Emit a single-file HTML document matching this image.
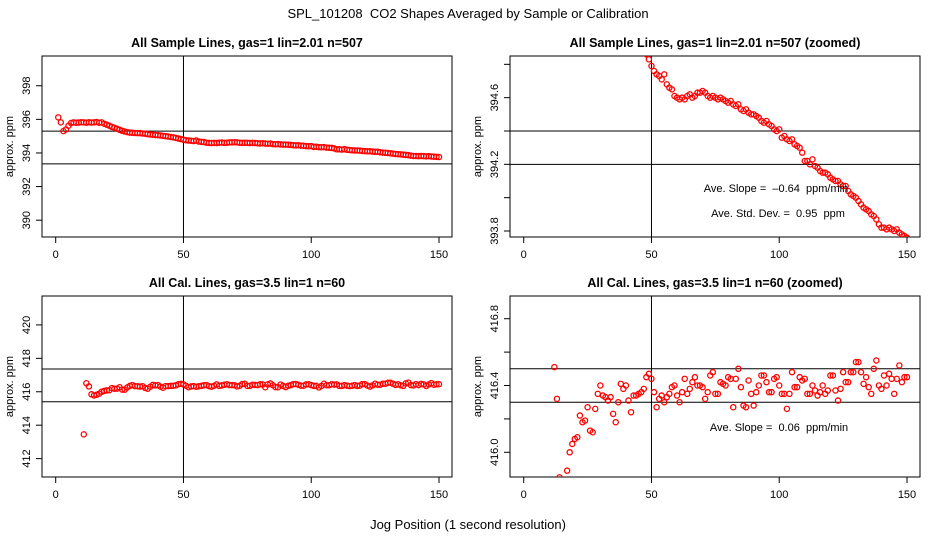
<!DOCTYPE html>
<html><head><meta charset="utf-8">
<style>
html,body{margin:0;padding:0;background:#fff;width:936px;height:540px;overflow:hidden;}
svg{display:block;font-family:"Liberation Sans",Arial,sans-serif;}
text{white-space:pre;}
</style></head>
<body>
<svg id="c" width="936" height="540" viewBox="0 0 936 540" xmlns="http://www.w3.org/2000/svg">
<text x="468" y="18" text-anchor="middle" font-size="13">SPL_101208  CO2 Shapes Averaged by Sample or Calibration</text>
<text x="468" y="529" text-anchor="middle" font-size="13">Jog Position (1 second resolution)</text>
</svg>
<script>
const xTicks = [0, 50, 100, 150];
const sampleValues = [
396.12,395.82,395.30,395.40,395.62,395.78,395.82,395.80,395.81,395.83,
395.82,395.80,395.83,395.81,395.82,395.84,395.80,395.82,395.74,395.68,
395.62,395.55,395.50,395.44,395.38,395.32,395.28,395.24,395.21,395.20,
395.19,395.18,395.18,395.16,395.15,395.12,395.10,395.09,395.07,395.06,
395.04,395.02,395.00,394.98,394.95,394.93,394.90,394.86,394.83,394.79,
394.76,394.74,394.73,394.71,394.74,394.68,394.66,394.65,394.61,394.60,
394.59,394.60,394.59,394.61,394.62,394.60,394.61,394.63,394.63,394.64,
394.63,394.61,394.60,394.61,394.60,394.59,394.60,394.59,394.58,394.57,
394.58,394.56,394.55,394.56,394.53,394.52,394.53,394.51,394.50,394.50,
394.49,394.48,394.46,394.45,394.46,394.44,394.43,394.41,394.40,394.41,
394.36,394.37,394.35,394.34,394.35,394.32,394.31,394.30,394.27,394.22,
394.22,394.20,394.23,394.19,394.18,394.16,394.15,394.15,394.14,394.12,
394.11,394.10,394.10,394.08,394.07,394.07,394.04,394.02,394.01,394.00,
393.98,393.96,393.94,393.93,393.92,393.90,393.89,393.87,393.84,393.82,
393.82,393.81,393.82,393.81,393.80,393.81,393.79,393.78,393.77,393.76];
const calStart = 11;
const calValues = [
413.45,416.51,416.32,415.85,415.78,415.82,415.89,416.00,416.05,416.08,
416.09,416.22,416.18,416.19,416.27,416.13,416.12,416.26,416.35,416.40,
416.34,416.33,416.31,416.33,416.23,416.18,416.30,416.41,416.38,416.40,
416.31,416.24,416.34,416.34,416.35,416.36,416.38,416.45,416.47,416.44,
416.36,416.27,416.32,416.34,416.30,416.33,416.35,416.39,416.40,416.34,
416.30,416.36,416.44,416.35,416.38,416.42,416.45,416.40,416.40,416.39,
416.32,416.36,416.46,416.48,416.35,416.35,416.42,416.41,416.40,416.45,
416.44,416.27,416.44,416.50,416.39,416.28,416.27,416.43,416.35,416.28,
416.36,416.40,416.46,416.46,416.42,416.36,416.36,416.44,416.45,416.40,
416.35,416.35,416.26,416.35,416.48,416.39,416.39,416.45,416.43,416.44,
416.35,416.35,416.40,416.37,416.34,416.36,416.40,416.35,416.37,416.46,
416.46,416.37,416.31,416.38,416.48,416.42,416.42,416.48,416.48,416.54,
416.54,416.48,416.41,416.45,416.39,416.35,416.50,416.55,416.40,416.38,
416.46,416.40,416.47,416.44,416.35,416.44,416.52,416.42,416.45,416.45];
const sampleTicks1 = [390, 392, 394, 396, 398];
const sampleTicks2 = [393.8, 394.0, 394.2, 394.4, 394.6, 394.8];
const sampleLabels2 = ["393.8", "", "394.2", "", "394.6", ""];
const calTicks1 = [412, 414, 416, 418, 420];
const calTicks2 = [416.0, 416.2, 416.4, 416.6, 416.8];
const calLabels2 = ["416.0", "", "416.4", "", "416.8"];

const NS = "http://www.w3.org/2000/svg";
const svg = document.getElementById('c');
function mk(tag, attrs, parent) {
  const e = document.createElementNS(NS, tag);
  for (const k in attrs) e.setAttribute(k, attrs[k]);
  (parent || svg).appendChild(e);
  return e;
}
const panels = [
  {name:'sample-full', x0:42, x1:452, y0:56, y1:237, ymin:389.0, ymax:399.77, title:'All Sample Lines, gas=1 lin=2.01 n=507', ticks:sampleTicks1, labels:sampleTicks1.map(String), hl:[395.3,393.35], xs:sampleValues.map((v,i)=>i+1), ys:sampleValues, notes:[]},
  {name:'sample-zoomed', x0:510, x1:920, y0:56, y1:237, ymin:393.764, ymax:394.85, title:'All Sample Lines, gas=1 lin=2.01 n=507 (zoomed)', ticks:sampleTicks2, labels:sampleLabels2, hl:[394.4,394.2], xs:sampleValues.map((v,i)=>i+1), ys:sampleValues, notes:[['Ave. Slope =  \u20130.64  ppm/min',776,192],['Ave. Std. Dev. =  0.95  ppm',778,217]]},
  {name:'cal-full', x0:42, x1:452, y0:296, y1:477, ymin:410.9, ymax:421.73, title:'All Cal. Lines, gas=3.5 lin=1 n=60', ticks:calTicks1, labels:calTicks1.map(String), hl:[417.36,415.4], xs:calValues.map((v,i)=>i+calStart), ys:calValues, notes:[]},
  {name:'cal-zoomed', x0:510, x1:920, y0:296, y1:477, ymin:415.852, ymax:416.936, title:'All Cal. Lines, gas=3.5 lin=1 n=60 (zoomed)', ticks:calTicks2, labels:calLabels2, hl:[416.5,416.3], xs:calValues.map((v,i)=>i+calStart), ys:calValues, notes:[['Ave. Slope =  0.06  ppm/min',779,431]]}
];
panels.forEach(p => {
  const g = mk('g', {});
  
  
  const clipId = 'clip-' + p.name;
  const cp = mk('clipPath', {id: clipId}, g);
  mk('rect', {x:p.x0, y:p.y0, width:p.x1-p.x0, height:p.y1-p.y0}, cp);
  const xs = v => p.x0 + 13.7 + v * (383.3/150);
  const ys = v => p.y1 - (v - p.ymin) / (p.ymax - p.ymin) * (p.y1 - p.y0);
  const t = mk('text', {x:(p.x0+p.x1)/2, y:p.y0-9, 'text-anchor':'middle', 'font-size':'12.5', 'font-weight':'bold'}, g);
  t.textContent = p.title;
  
  
  const yl = mk('text', {transform:`translate(13,${(p.y0+p.y1)/2}) rotate(-90)`, 'text-anchor':'middle', 'font-size':'11'}, g);
  yl.textContent = 'approx. ppm';
  
  
  if (p.x0 > 300) yl.setAttribute('transform', `translate(481,${(p.y0+p.y1)/2}) rotate(-90)`);
  const box = mk('rect', {x:p.x0, y:p.y0, width:p.x1-p.x0, height:p.y1-p.y0, fill:'none', stroke:'#000', 'stroke-width':1}, g);
  
  
  xTicks.forEach(v => {
    mk('line', {x1:xs(v), x2:xs(v), y1:p.y1, y2:p.y1+6, stroke:'#000'}, g);
    const tl = mk('text', {x:xs(v), y:p.y1+21, 'text-anchor':'middle', 'font-size':'11'}, g);
    tl.textContent = String(v);
    
    
  });
  p.ticks.forEach((v, i) => {
    const y = ys(v);
    if (y < p.y0 - 0.5 || y > p.y1 + 0.5) return;
    mk('line', {x1:p.x0-6, x2:p.x0, y1:y, y2:y, stroke:'#000'}, g);
    if (p.labels[i]) {
      const tl = mk('text', {transform:`translate(${p.x0-12},${y}) rotate(-90)`, 'text-anchor':'middle', 'font-size':'11'}, g);
      tl.textContent = p.labels[i];
      
      
    }
  });
  p.hl.forEach(v => {
    const l = mk('line', {x1:p.x0, x2:p.x1, y1:ys(v), y2:ys(v), stroke:'#000'}, g);
    
    
  });
  const vl = mk('line', {x1:xs(50), x2:xs(50), y1:p.y0, y2:p.y1, stroke:'#000'}, g);
  
  
  const pg = mk('g', {'clip-path':`url(#${clipId})`}, g);
  p.ys.forEach((v, i) => {
    const c = mk('circle', {cx:xs(p.xs[i]), cy:ys(v), r:2.6, fill:'none', stroke:'#f00', 'stroke-width':1.3}, pg);
    
    
  });
  p.notes.forEach(n => {
    const tx = mk('text', {x:n[1], y:n[2], 'text-anchor':'middle', 'font-size':'11'}, g);
    tx.textContent = n[0];
    
    
  });
});
</script>
</body></html>
